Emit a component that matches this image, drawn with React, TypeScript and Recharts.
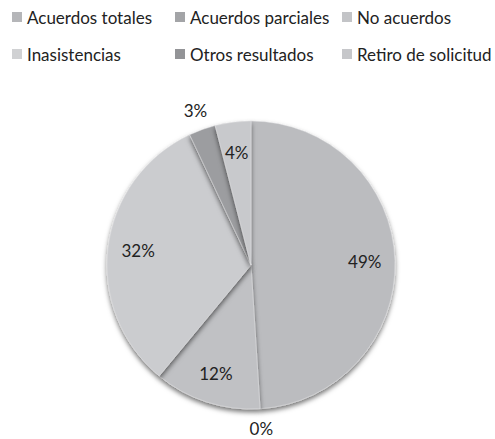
import React from "react";
import { PieChart, Pie, Cell } from "recharts";

const categories = [
  "Acuerdos totales",
  "Acuerdos parciales",
  "No acuerdos",
  "Inasistencias",
  "Otros resultados",
  "Retiro de solicitud",
];
const percentages = [49, 0, 12, 32, 3, 4];
const colors = ["#bbbcbf", "#a6a7aa", "#c0c1c4", "#cbcccf", "#9c9da0", "#c8c9cc"];
const legendColors = ["#b5b6b9", "#a3a4a7", "#c3c4c7", "#d0d1d3", "#939497", "#c6c7ca"];

const data = categories.map((name, i) => ({ name, value: percentages[i] }));

const FONT = "Lato, 'Open Sans', sans-serif";
const RAD = Math.PI / 180;

const renderLabel = (props: any) => {
  const { cx, cy, midAngle, outerRadius, value } = props;
  const small = value < 3.5;
  const r = small ? outerRadius + 20 : outerRadius * 0.79;
  const x = cx + r * Math.cos(-midAngle * RAD);
  const y = cy + r * Math.sin(-midAngle * RAD);
  return (
    <text
      x={x}
      y={y}
      textAnchor="middle"
      dominantBaseline="central"
      fill="#222"
      fontSize={17}
      fontFamily={FONT}
    >
      {`${value}%`}
    </text>
  );
};

const legendCols = [12, 175, 342];
const legendRows = [17, 54];

export default function App() {
  return (
    <div style={{ position: "absolute", left: 0, top: 0, width: 495, height: 439, background: "#fff" }}>
      <div style={{ position: "absolute", left: 0, top: 0, width: 495, height: 80 }}>
        {categories.map((c, i) => {
          const col = i % 3;
          const row = Math.floor(i / 3);
          return (
            <div
              key={c}
              style={{
                position: "absolute",
                left: legendCols[col],
                top: legendRows[row] - 11,
                height: 22,
                display: "flex",
                alignItems: "center",
                fontFamily: FONT,
                fontSize: 17,
                color: "#222",
                whiteSpace: "nowrap",
              }}
            >
              <span
                style={{
                  display: "inline-block",
                  width: 10,
                  height: 10,
                  background: legendColors[i],
                  marginRight: 5,
                }}
              />
              {c}
            </div>
          );
        })}
      </div>
      <div style={{ position: "absolute", left: 0, top: 0 }}>
        <PieChart width={495} height={439} margin={{ top: 0, right: 0, bottom: 0, left: 0 }}>
          <defs>
            <filter id="pieShadow" x="-20%" y="-20%" width="140%" height="140%">
              <feDropShadow dx="0" dy="3" stdDeviation="2.5" floodColor="#000" floodOpacity="0.55" />
            </filter>
          </defs>
          <Pie
            data={data}
            dataKey="value"
            nameKey="name"
            cx={251}
            cy={265}
            outerRadius={144}
            startAngle={90}
            endAngle={-270}
            isAnimationActive={false}
            label={renderLabel}
            labelLine={false}
            stroke="#e2e2e4"
            strokeWidth={0.5}
            style={{ filter: "url(#pieShadow)" }}
          >
            {data.map((d, i) => (
              <Cell key={d.name} fill={colors[i]} />
            ))}
          </Pie>
        </PieChart>
      </div>
    </div>
  );
}
